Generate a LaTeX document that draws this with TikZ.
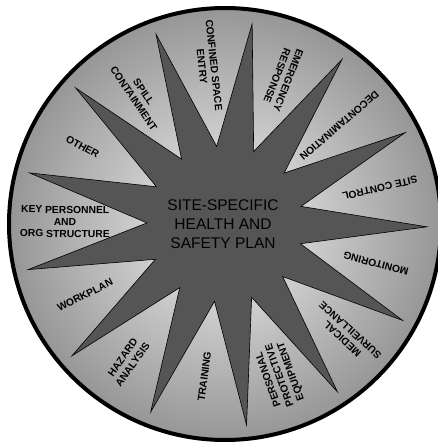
\documentclass[tikz,border=0pt]{standalone}
\usepackage{fontspec}
\setmainfont{Liberation Sans}
\definecolor{starfill}{HTML}{555555}
\definecolor{ringin}{HTML}{F2F2F2}
\definecolor{ringout}{HTML}{969696}
\pgfdeclareradialshading{ringshade}{\pgfpoint{0bp}{0bp}}{color(0bp)=(ringin); color(25bp)=(ringout); color(50bp)=(ringout)}
\tikzset{
  lbl/.style={font=\bfseries\fontsize{10.3}{12}\selectfont, align=center, text=black, inner sep=0pt},
  starshape/.style={fill=starfill, draw=black, line width=0.6pt, line join=miter},
  ringshape/.style={circle, draw=black, line width=4pt, minimum size=432pt, inner sep=0pt, shading=ringshade},
  plantxt/.style={font=\fontsize{15.5}{18.7}\selectfont, align=center, text=black, inner sep=0pt}
}
\begin{document}
\begin{tikzpicture}[x=1pt,y=1pt]
\useasboundingbox (-225,-218) rectangle (213,224);
\clip (-225,-218) rectangle (213,224);
\node[ringshape] (ring) at (0,0) {};
\draw[starshape] (-0.8:202)
  \foreach \k in {0,...,11} { -- ({13.046+27.6923*\k}:78) -- ({-0.8+27.6923*(\k+1)}:202) }
  -- ({13.046+27.6923*12}:78) -- cycle;
\node[plantxt] (plan) at (-2,0) {SITE-SPECIFIC\\HEALTH AND\\SAFETY PLAN};
\node[lbl, rotate=-166.95] (sitecontrol) at (13.05:159) {SITE CONTROL};
\node[lbl, rotate=-139.26] (decon) at (40.74:151) {DECONTAMINATION};
\node[lbl, rotate=-111.57] (emergency) at (68.43:157) {EMERGENCY\\RESPONSE};
\node[lbl, rotate=-83.88] (confined) at (96.12:159) {CONFINED SPACE\\ENTRY};
\node[lbl, rotate=-56.18] (spill) at (123.82:155) {SPILL\\CONTAINMENT};
\node[lbl, rotate=-28.49] (other) at (151.51:162) {OTHER};
\node[lbl, rotate=-0.8] (keypers) at (179.2:160) {KEY PERSONNEL\\AND\\ORG STRUCTURE};
\node[lbl, rotate=26.9] (workplan) at (-153.1:157) {WORKPLAN};
\node[lbl, rotate=54.6] (hazard) at (-125.4:168) {HAZARD\\ANALYSIS};
\node[lbl, rotate=82.3] (training) at (-97.7:154) {TRAINING};
\node[lbl, rotate=109.97] (ppe) at (-70.03:161) {PERSONAL\\PROTECTIVE\\EQUIPMENT};
\node[lbl, rotate=137.66] (medical) at (-42.34:164) {MEDICAL\\SURVEILLANCE};
\node[lbl, rotate=165.36] (monitoring) at (-14.64:156) {MONITORING};
\end{tikzpicture}
\end{document}
